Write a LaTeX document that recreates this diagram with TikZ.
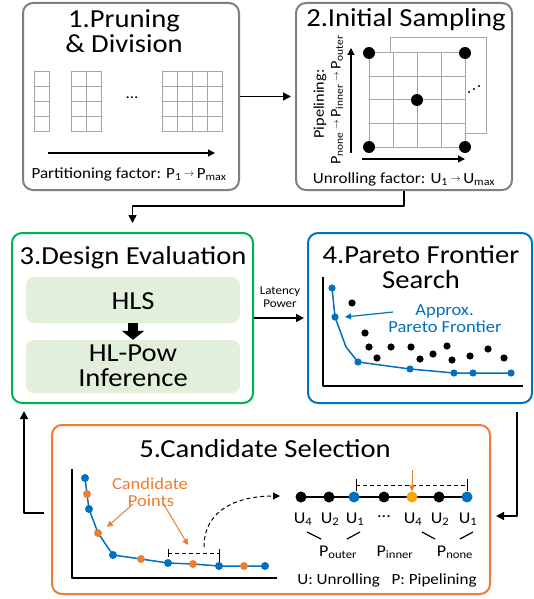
\documentclass[tikz,border=0pt]{standalone}
\usepackage{fontspec}
\setmainfont[FakeStretch=1.1]{Carlito}
\usetikzlibrary{arrows.meta}
\definecolor{bgray}{HTML}{7F7F7F}
\definecolor{cgray}{HTML}{A6A6A6}
\definecolor{bgreen}{HTML}{00B050}
\definecolor{lgreen}{HTML}{E2EFDA}
\definecolor{bblue}{HTML}{0070C0}
\definecolor{borange}{HTML}{ED7D31}
\definecolor{gold}{HTML}{FFA500}
\newcommand\sbs[1]{\textsubscript{#1}}
\newcommand\rarr{\,\raisebox{0.12em}{\resizebox{0.65em}{!}{$\rightarrow$}}\,}
\begin{document}
\begin{tikzpicture}[x=1pt,y=-1pt,line join=round,
  box/.style={draw, line width=2pt, rounded corners=10pt, inner sep=0pt},
  ttl/.style={font=\fontsize{26}{26}\selectfont, anchor=base, inner sep=0pt},
  lbl/.style={font=\fontsize{15.5}{15.5}\selectfont, anchor=base, inner sep=0pt},
  ulbl/.style={font=\fontsize{16.4}{16.4}\selectfont, anchor=base, inner sep=0pt},
  mid/.style={font=\fontsize{16.8}{16.8}\selectfont, anchor=base, inner sep=0pt},
  rot/.style={font=\fontsize{14.8}{14.8}\selectfont, rotate=90, inner sep=0pt},
  arr/.style={line width=1.5pt, -{Triangle[length=8pt,width=8pt]}},
  thinarr/.style={line width=1.2pt, -{Triangle[length=7pt,width=7pt]}},
  cell/.style={draw=cgray, line width=1pt},
  dot/.style={circle, fill, inner sep=0pt, minimum size=#1},
  inbox/.style={fill=lgreen, rounded corners=8pt, minimum width=214pt, inner sep=0pt},
]
\useasboundingbox (0,0) rectangle (534,599);

% ---------- Box 1 ----------
\node[box, draw=bgray, minimum width=216pt, minimum height=187pt] (box1) at (131,96.5) {};
\node[ttl] (t1a) at (124,28) {1.Pruning};
\node[ttl] (t1b) at (124,53) {\& Division};
\foreach \i in {0,...,3}
  \draw[cell] (34,{72+14.75*\i}) rectangle ++(15,14.75);
\foreach \i in {0,...,3} \foreach \j in {0,1}
  \draw[cell] ({71+15*\j},{72+14.75*\i}) rectangle ++(15,14.75);
\foreach \i in {0,...,3} \foreach \j in {0,...,3}
  \draw[cell] ({162+15*\j},{72+14.75*\i}) rectangle ++(15,14.75);
\node[font=\fontsize{15.5}{15.5}\selectfont, inner sep=0pt] (ell1) at (132,98) {...};
\coordinate (pa) at (48,153);
\coordinate (pb) at (215,153);
\draw[thinarr] (pa) -- (pb);
\node[lbl] (pf) at (129,178) {Partitioning factor: P\sbs{1}\rarr P\sbs{max}};

% ---------- Box 2 ----------
\node[box, draw=bgray, minimum width=216pt, minimum height=187pt] (box2) at (404,96.5) {};
\node[ttl] (t2) at (406,27) {2.Initial Sampling};
\draw[cell, fill=white] (390,38) rectangle (486,133);
\foreach \i in {0,...,3} \foreach \j in {0,...,3}
  \draw[cell, fill=white] ({369+24*\j},{53+23.5*\i}) rectangle ++(24,23.5);
\node[dot=12pt] (s1) at (369,53) {};
\node[dot=12pt] (s2) at (465,53) {};
\node[dot=12pt] (s3) at (369,147) {};
\node[dot=12pt] (s4) at (465,147) {};
\node[dot=12pt] (s5) at (417,100) {};
\fill (469,92) circle (1.1) (474,89) circle (1.1) (479,86) circle (1.1);
\coordinate (va) at (351,153);
\coordinate (vb) at (351,48);
\draw[thinarr] (va) -- (vb);
\coordinate (ha) at (362,159);
\coordinate (hb) at (465,159);
\draw[thinarr] (ha) -- (hb);
\node[rot] (pip) at (320,104) {Pipelining:};
\node[rot] (pseq) at (337,100) {P\sbs{none}\rarr P\sbs{inner}\rarr P\sbs{outer}};
\node[lbl] (uf) at (404,183) {Unrolling factor: U\sbs{1}\rarr U\sbs{max}};

% ---------- Box 3 ----------
\node[box, draw=bgreen, minimum width=241pt, minimum height=170pt] (box3) at (132.5,318) {};
\node[ttl] (t3) at (133,264) {3.Design Evaluation};
\node[inbox, minimum height=46pt] (hls) at (133,300) {};
\node[inbox, minimum height=53pt] (hlpow) at (133,366.5) {};
\node[ttl] (thls) at (133,309) {HLS};
\node[ttl] (thl1) at (133,361) {HL-Pow};
\node[ttl] (thl2) at (133,386) {Inference};
\draw[line width=10pt, -{Triangle[length=9pt,width=22pt]}] (hls.south) -- (hlpow.north);

% ---------- Box 4 ----------
\node[box, draw=bblue, minimum width=224pt, minimum height=170pt] (box4) at (420,318) {};
\node[ttl] (t4a) at (421,263) {4.Pareto Frontier};
\node[ttl] (t4b) at (421,288) {Search};
\coordinate (ax4a) at (323,277);
\coordinate (ax4o) at (323,386);
\coordinate (ax4b) at (523,386);
\draw[line width=1.5pt] (ax4a) -- (ax4o) -- (ax4b);
\draw[bblue, line width=1.5pt] (332,288) -- (335,317) -- (346,347) -- (358,362) -- (410,369) -- (454,373) -- (511,373);
\foreach \p in {(332,288),(335,317),(358,362),(410,369),(454,373),(473,373),(511,373)}
  \fill[bblue] \p circle (3.6);
\foreach \p in {(352,303),(365,333),(369,347),(377,358),(391,347),(411,347),(420,359),(433,354),(447,346),(452,360),(470,356),(488,349),(504,358)}
  \fill \p circle (3.6);
\node[mid, text=bblue] (ap1) at (444.5,315) {Approx.};
\node[mid, text=bblue] (ap2) at (445,332) {Pareto Frontier};
\coordinate (apa) at (393,312);
\coordinate (apb) at (345,317);
\draw[bblue, line width=1.2pt, -{Triangle[length=6pt,width=6pt]}] (apa) -- (apb);

% ---------- Box 5 ----------
\node[box, draw=borange, minimum width=438pt, minimum height=169pt] (box5) at (271,509.5) {};
\node[ttl] (t5) at (265,457) {5.Candidate Selection};
\coordinate (ax5a) at (72,469);
\coordinate (ax5o) at (72,578);
\coordinate (ax5b) at (277,578);
\draw[line width=1.5pt] (ax5a) -- (ax5o) -- (ax5b);
\draw[bblue, line width=1.5pt] (85,478) -- (87,494) -- (89,509) -- (98,533) -- (113,555) -- (141,559) -- (168,563) -- (193,564) -- (219,566) -- (265,566);
\foreach \p in {(85,478),(89,509),(113,555),(168,563),(219,566),(265,566)}
  \fill[bblue] \p circle (4);
\foreach \p in {(87,494),(98,533),(141,559),(193,564),(244,566)}
  \fill[borange] \p circle (4);
\node[mid, text=borange] (cp1) at (150,489) {Candidate};
\node[mid, text=borange] (cp2) at (151,506) {Points};
\coordinate (ca1) at (133,504);
\coordinate (cb1) at (107,527);
\coordinate (ca2) at (163,503);
\coordinate (cb2) at (188,545);
\draw[borange, line width=1pt, -{Triangle[length=6pt,width=6pt]}] (ca1) -- (cb1);
\draw[borange, line width=1pt, -{Triangle[length=6pt,width=6pt]}] (ca2) -- (cb2);
\draw[dash pattern=on 4pt off 3pt, line width=1pt] (168,553) -- (219,553);
\draw[line width=1pt] (168,549) -- (168,557);
\draw[line width=1pt] (219,549) -- (219,562);
\coordinate (cva) at (204,547);
\coordinate (cvb) at (280,496);
\draw[dash pattern=on 4pt off 3pt, line width=1pt, -{Triangle[length=7pt,width=7pt]}] (cva) .. controls (204,508) and (240,496) .. (cvb);

% right part
\draw[line width=2pt] (301,497) -- (467,497);
\draw[dash pattern=on 4pt off 3pt, line width=1pt] (356,485) -- (467,485);
\draw[line width=1pt] (356,479) -- (356,491);
\draw[line width=1pt] (467,479) -- (467,491);
\node[dot=11pt] (q1) at (301,497) {};
\node[dot=11pt] (q2) at (329,497) {};
\node[dot=11pt, fill=bblue] (q3) at (354,497) {};
\node[dot=11pt] (q4) at (384,497) {};
\node[dot=11pt, fill=gold] (q5) at (412,497) {};
\node[dot=11pt] (q6) at (439,497) {};
\node[dot=11pt, fill=bblue] (q7) at (467,497) {};
\coordinate (oa) at (412,470);
\draw[borange, line width=1pt, -{Triangle[length=6pt,width=6pt]}] (oa) -- (q5.north);
\node[ulbl] (u1) at (303,523) {U\sbs{4}};
\node[ulbl] (u2) at (330,523) {U\sbs{2}};
\node[ulbl] (u3) at (355,523) {U\sbs{1}};
\node[font=\fontsize{16.4}{16.4}\selectfont, inner sep=0pt] (u4) at (384,517) {...};
\node[ulbl] (u5) at (413,523) {U\sbs{4}};
\node[ulbl] (u6) at (440,523) {U\sbs{2}};
\node[ulbl] (u7) at (468,523) {U\sbs{1}};
\draw[line width=1.2pt] (307,532) -- (321,539);
\draw[line width=1.2pt] (347,539) -- (360,532);
\draw[line width=1.2pt] (422,532) -- (435,539);
\draw[line width=1.2pt] (460,539) -- (473,532);
\node[ulbl] (po) at (338,556) {P\sbs{outer}};
\node[ulbl] (pi) at (395,556) {P\sbs{inner}};
\node[ulbl] (pn) at (455,556) {P\sbs{none}};
\node[lbl] (leg) at (387,584) {U: Unrolling\hspace{0.75em}P: Pipelining};

% ---------- connectors between boxes ----------
\draw[arr, shorten >=4pt] (box1.east) -- (box2.west);
\draw[arr, shorten >=9pt] (box2.south) -- ++(0,15) -| (box3.north);
\draw[arr, shorten >=3pt] (box3.east) -- (box4.west);
\node[font=\fontsize{11.8}{11.8}\selectfont, anchor=base, inner sep=0pt] (lat) at (280,294) {Latency};
\node[font=\fontsize{11.8}{11.8}\selectfont, anchor=base, inner sep=0pt] (pow) at (280,307) {Power};
\draw[arr, shorten <=8pt, shorten >=5pt] (box4.south -| 517,0) |- (box5.east |- 0,516);
\draw[arr, shorten <=7pt, shorten >=7pt] (box5.west |- 0,513) -| (box3.south -| 24,0);
\end{tikzpicture}
\end{document}
